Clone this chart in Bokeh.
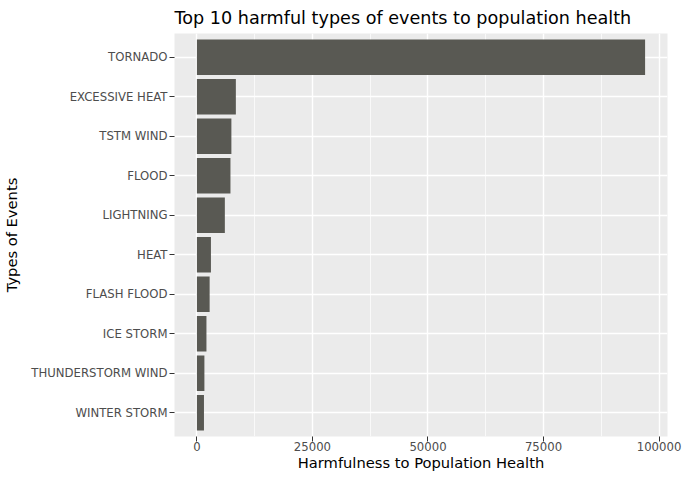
from bokeh.plotting import figure
from bokeh.models import Range1d, SingleIntervalTicker, FixedTicker, Title
from bokeh.embed import file_html
from bokeh.resources import INLINE

events = ["TORNADO", "EXCESSIVE HEAT", "TSTM WIND", "FLOOD", "LIGHTNING",
          "HEAT", "FLASH FLOOD", "ICE STORM", "THUNDERSTORM WIND", "WINTER STORM"]
harm = [96979, 8428, 7461, 7259, 6046, 3037, 2755, 2064, 1621, 1527]

n = len(events)
ypos = [n - i for i in range(n)]          # TORNADO on top
xmax = max(harm)
pad = 0.05 * xmax

p = figure(frame_width=493, frame_height=403, output_backend="svg", toolbar_location=None,
           y_range=Range1d(0.4, n + 0.6), x_range=Range1d(-pad, xmax + pad),
           min_border_left=0, min_border_right=15, min_border_top=0, min_border_bottom=0)

p.hbar(y=ypos, right=harm, left=0, height=0.9, fill_color="#595953", line_color=None)

p.background_fill_color = "#EBEBEB"
p.border_fill_color = "white"
p.outline_line_color = None

p.xaxis.ticker = SingleIntervalTicker(interval=25000, num_minor_ticks=2)
p.yaxis.ticker = FixedTicker(ticks=ypos, minor_ticks=[])
p.yaxis.major_label_overrides = {y: e for y, e in zip(ypos, events)}
p.xgrid.grid_line_color = "white"
p.xgrid.grid_line_width = 1.4
p.xgrid.minor_grid_line_color = "white"
p.xgrid.minor_grid_line_width = 0.7
p.ygrid.grid_line_color = "white"
p.ygrid.grid_line_width = 1.4

for ax in (p.xaxis, p.yaxis):
    ax.axis_line_color = None
    ax.major_tick_line_color = "#333333"
    ax.major_tick_line_width = 1
    ax.major_tick_out = 5
    ax.major_tick_in = 0
    ax.minor_tick_line_color = None
    ax.major_label_text_font = "DejaVu Sans"
    ax.major_label_text_font_size = "11.7px"
    ax.major_label_text_color = "#4D4D4D"
    ax.axis_label_text_font = "DejaVu Sans"
    ax.axis_label_text_font_size = "14.7px"
    ax.axis_label_text_font_style = "normal"
    ax.axis_label_text_color = "black"

p.yaxis.major_label_standoff = 2
p.xaxis.major_label_standoff = 0
p.yaxis.axis_label = "Types of Events"
p.yaxis.axis_label_standoff = 8
p.xaxis.axis_label = "Harmfulness to Population Health"
p.xaxis.axis_label_standoff = 0
p.xaxis.formatter.use_scientific = False

p.title = Title(text="Top 10 harmful types of events to population health",
                text_font="DejaVu Sans", text_font_size="17.6px", text_font_style="normal",
                text_color="black", align="left", offset=0, standoff=11)

open("out.html", "w").write(file_html(p, INLINE))
